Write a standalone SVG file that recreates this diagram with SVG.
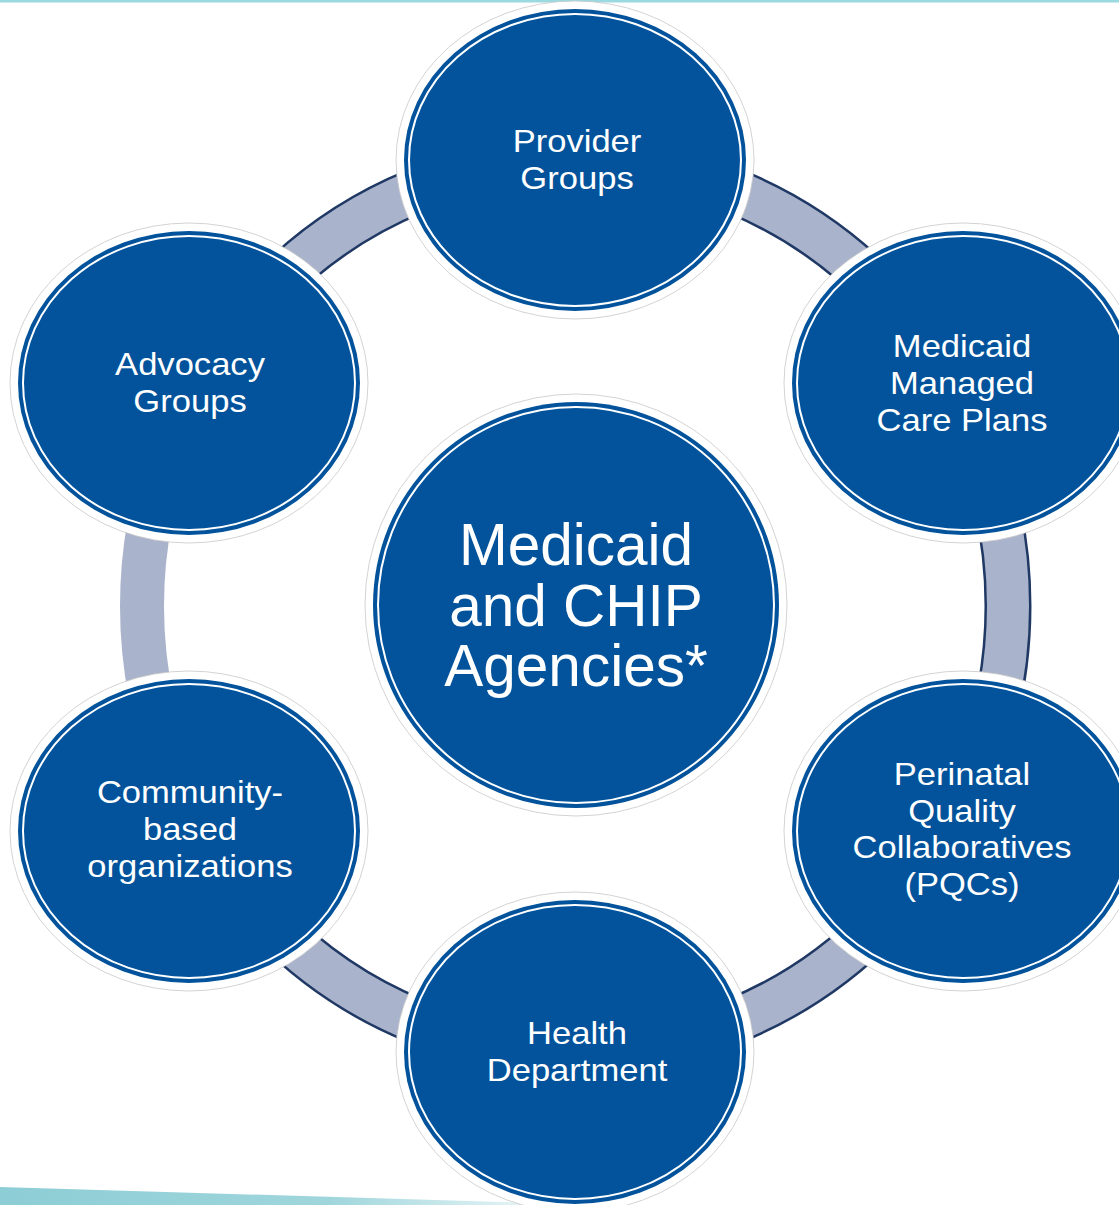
<svg xmlns="http://www.w3.org/2000/svg" width="1119" height="1205" viewBox="0 0 1119 1205">
  <defs>
    <style>
      .halo { fill: #ffffff; stroke: #c8c8c8; stroke-width: 0.8; }
      .body { fill: #02539b; }
      .gap { fill: none; stroke: #ffffff; stroke-width: 2; }
      .lbl { fill: #ffffff; font-family: "Liberation Sans", Arial, sans-serif; font-size: 32px; text-anchor: middle; }
      .big { fill: #ffffff; font-family: "Liberation Sans", Arial, sans-serif; font-size: 58.5px; text-anchor: middle; }
    </style>
    <linearGradient id="teal" x1="0" y1="0" x2="1" y2="0">
      <stop offset="0" stop-color="#8dcdd5"/>
      <stop offset="0.55" stop-color="#9fd6dc"/>
      <stop offset="1" stop-color="#ffffff"/>
    </linearGradient>
    <clipPath id="leftSeg">
      <rect x="100" y="520" width="90" height="180"/>
    </clipPath>
  </defs>

  <rect x="0" y="0" width="1119" height="1205" fill="#ffffff"/>
  <rect x="0" y="0" width="1119" height="2.5" fill="#9bd9e0"/>
  <polygon points="0,1187 600,1205 0,1205" fill="url(#teal)"/>

  <g id="connectors">
    <ellipse cx="575" cy="606" rx="433" ry="446" fill="none" stroke="#1f3864" stroke-width="47"/>
    <ellipse cx="575" cy="606" rx="433" ry="446" fill="none" stroke="#a9b3cb" stroke-width="42"/>
    <g clip-path="url(#leftSeg)">
      <ellipse cx="575" cy="606" rx="433" ry="446" fill="none" stroke="#ffffff" stroke-width="50"/>
      <ellipse cx="575" cy="606" rx="433" ry="446" fill="none" stroke="#a9b3cb" stroke-width="44"/>
    </g>
  </g>

  <g id="provider-groups">
    <ellipse class="halo" cx="575" cy="160" rx="179" ry="159"/>
    <ellipse class="body" cx="575" cy="160" rx="171" ry="151"/>
    <ellipse class="gap" cx="575" cy="160" rx="166" ry="146"/>
    <text class="lbl" transform="translate(577,152) scale(1.08,1)">Provider</text>
    <text class="lbl" transform="translate(577,189) scale(1.08,1)">Groups</text>
  </g>

  <g id="advocacy-groups">
    <ellipse class="halo" cx="189" cy="383" rx="179" ry="160"/>
    <ellipse class="body" cx="189" cy="383" rx="171" ry="152"/>
    <ellipse class="gap" cx="189" cy="383" rx="166" ry="147"/>
    <text class="lbl" transform="translate(190,375) scale(1.08,1)">Advocacy</text>
    <text class="lbl" transform="translate(190,412) scale(1.08,1)">Groups</text>
  </g>

  <g id="medicaid-managed-care-plans">
    <ellipse class="halo" cx="963" cy="383" rx="179" ry="160"/>
    <ellipse class="body" cx="963" cy="383" rx="171" ry="152"/>
    <ellipse class="gap" cx="963" cy="383" rx="166" ry="147"/>
    <text class="lbl" transform="translate(962,357) scale(1.08,1)">Medicaid</text>
    <text class="lbl" transform="translate(962,394) scale(1.08,1)">Managed</text>
    <text class="lbl" transform="translate(962,431) scale(1.08,1)">Care Plans</text>
  </g>

  <g id="perinatal-quality-collaboratives">
    <ellipse class="halo" cx="963" cy="831" rx="179" ry="160"/>
    <ellipse class="body" cx="963" cy="831" rx="171" ry="152"/>
    <ellipse class="gap" cx="963" cy="831" rx="166" ry="147"/>
    <text class="lbl" transform="translate(962,785) scale(1.08,1)">Perinatal</text>
    <text class="lbl" transform="translate(962,822) scale(1.08,1)">Quality</text>
    <text class="lbl" transform="translate(962,858) scale(1.08,1)">Collaboratives</text>
    <text class="lbl" transform="translate(962,895) scale(1.08,1)">(PQCs)</text>
  </g>

  <g id="community-based-organizations">
    <ellipse class="halo" cx="189" cy="831" rx="179" ry="160"/>
    <ellipse class="body" cx="189" cy="831" rx="171" ry="152"/>
    <ellipse class="gap" cx="189" cy="831" rx="166" ry="147"/>
    <text class="lbl" transform="translate(190,803) scale(1.08,1)">Community-</text>
    <text class="lbl" transform="translate(190,840) scale(1.08,1)">based</text>
    <text class="lbl" transform="translate(190,877) scale(1.08,1)">organizations</text>
  </g>

  <g id="health-department">
    <ellipse class="halo" cx="575" cy="1052" rx="179" ry="160"/>
    <ellipse class="body" cx="575" cy="1052" rx="171" ry="152"/>
    <ellipse class="gap" cx="575" cy="1052" rx="166" ry="147"/>
    <text class="lbl" transform="translate(577,1044) scale(1.08,1)">Health</text>
    <text class="lbl" transform="translate(577,1081) scale(1.08,1)">Department</text>
  </g>

  <g id="medicaid-chip-agencies">
    <circle class="halo" cx="576" cy="605" r="211"/>
    <circle class="body" cx="576" cy="605" r="203"/>
    <circle class="gap" cx="576" cy="605" r="198"/>
    <text class="big" x="576" y="565">Medicaid</text>
    <text class="big" x="576" y="626">and CHIP</text>
    <text class="big" x="576" y="686">Agencies*</text>
  </g>
</svg>
